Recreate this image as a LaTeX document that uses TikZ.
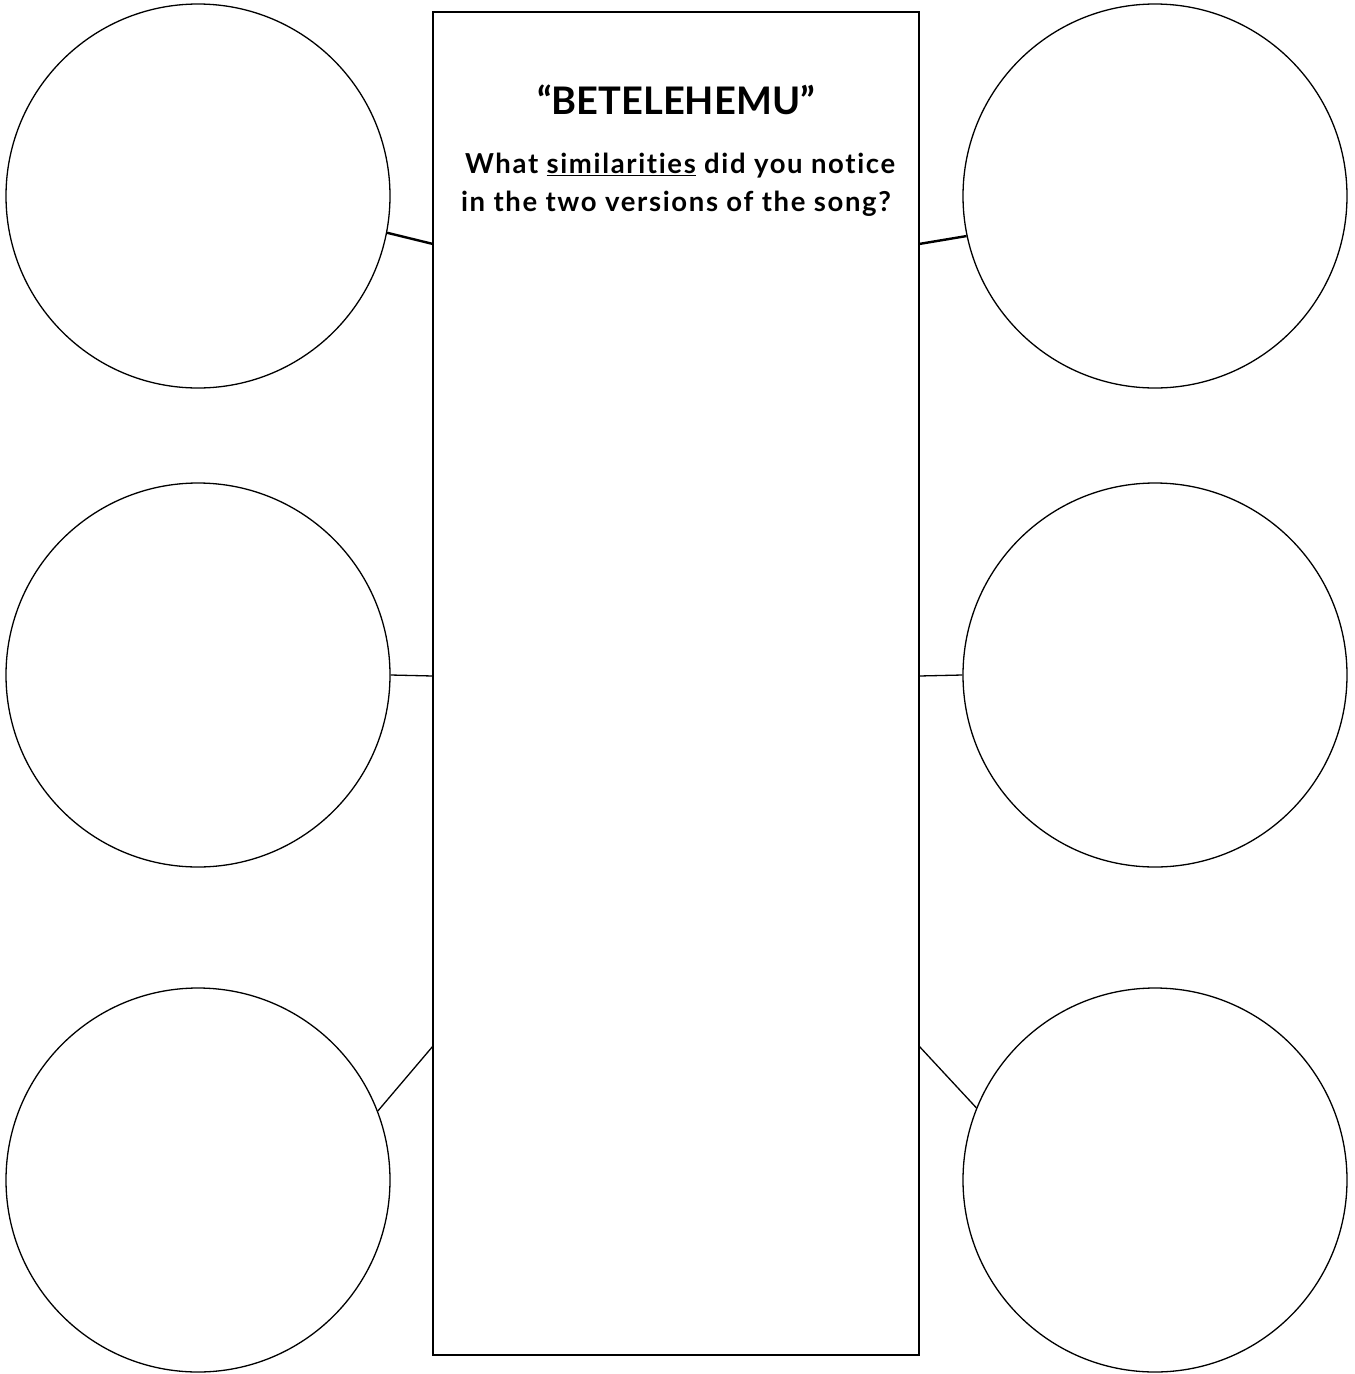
\documentclass[tikz,border=0pt]{standalone}
\usepackage{fontspec}
\setmainfont{Lato}[Ligatures=NoCommon]
\newfontfamily\bodyfont{Lato}[Ligatures=NoCommon,LetterSpace=6]
\begin{document}
\begin{tikzpicture}[x=1pt,y=-1pt,
  bubble/.style={draw=black,line width=1.3pt,circle,minimum size=384pt,inner sep=0pt},
  thinlink/.style={draw=black,line width=1.3pt},
  thicklink/.style={draw=black,line width=2.4pt},
  panel/.style={draw=black,line width=2.8pt,rectangle,minimum width=486pt,minimum height=1343pt,inner sep=0pt}]
\useasboundingbox (0,0) rectangle (1355,1374);
\fill[white] (0,0) rectangle (1355,1374);
\node[panel] (box) at (676,683.5) {};
\node[bubble] (l1) at (198,196) {};
\node[bubble] (l2) at (198,675) {};
\node[bubble] (l3) at (198,1180) {};
\node[bubble] (r1) at (1155,196) {};
\node[bubble] (r2) at (1155,675) {};
\node[bubble] (r3) at (1155,1180) {};
\coordinate (bl1) at (433,244);
\coordinate (bl2) at (433,676);
\coordinate (bl3) at (433,1046);
\coordinate (br1) at (919,244);
\coordinate (br2) at (919,676);
\coordinate (br3) at (919,1046);
\draw[thicklink] (l1.-11.1) -- (bl1);
\draw[thicklink] (r1.-168.9) -- (br1);
\draw[thinlink] (l2.0) -- (bl2);
\draw[thinlink] (r2.180) -- (br2);
\draw[thinlink] (l3.21.7) -- (bl3);
\draw[thinlink] (r3.158.4) -- (br3);
\node[font=\fontsize{38}{44}\selectfont\bfseries] (title) at (676,100) {“BETELEHEMU”};
\node[font=\bodyfont\fontsize{27.5}{38}\selectfont\bfseries,align=center] (question) at (676,185)
  {\ What \underline{similarities} did you notice\\in the two versions of the song?};
\end{tikzpicture}
\end{document}
